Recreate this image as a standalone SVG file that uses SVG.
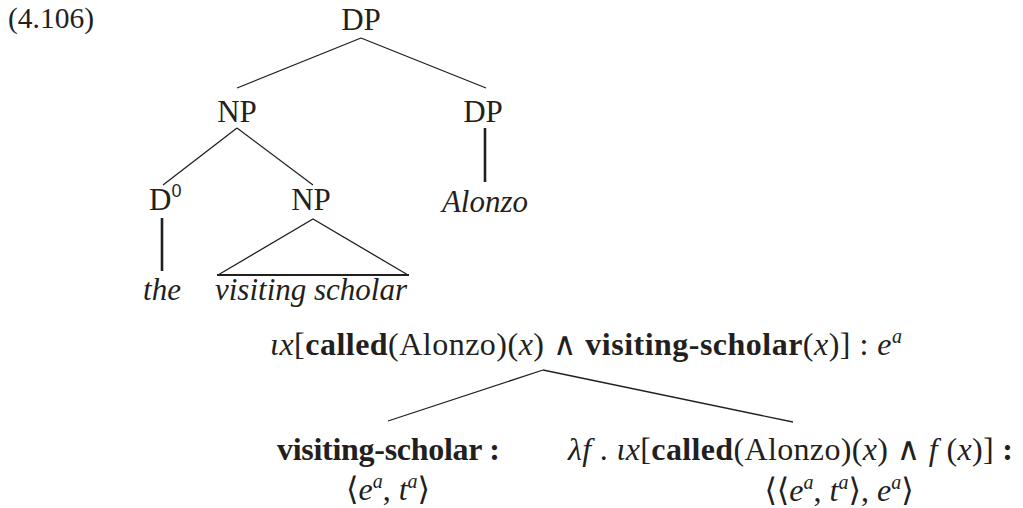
<svg xmlns="http://www.w3.org/2000/svg" width="1023" height="508" viewBox="0 0 1023 508">
<style>
text{font-family:"Liberation Serif","DejaVu Serif",serif;fill:#231f20}
.lab{font-size:31px;text-anchor:middle}
.leaf{font-size:31px;font-style:italic;text-anchor:middle}
.f{font-size:32px}
.b{font-weight:bold}
.i{font-style:italic}
.sup{font-size:20px;font-style:italic}
.ln{stroke:#231f20;stroke-width:1.3;fill:none}
.thick{stroke:#231f20;stroke-width:2.6;fill:none}
</style>
<rect width="1023" height="508" fill="#fff"/>
<text x="8" y="28" style="font-size:29.5px">(4.106)</text>
<g id="n-dp-root"><text class="lab" x="361" y="30">DP</text></g>
<g id="n-np1"><text class="lab" x="237" y="122">NP</text></g>
<g id="n-dp2"><text class="lab" x="483" y="122">DP</text></g>
<g id="n-d0"><text x="149" y="210" style="font-size:31px">D<tspan dy="-13" style="font-size:18px;font-family:'Liberation Sans',sans-serif">0</tspan></text></g>
<g id="n-np2"><text class="lab" x="311" y="210">NP</text></g>
<g id="n-alonzo"><text class="leaf" x="485" y="212">Alonzo</text></g>
<g id="n-the"><text class="leaf" x="162" y="300">the</text></g>
<g id="n-vs"><text class="leaf" x="311" y="300">visiting scholar</text></g>
<g id="n-sem-root"><text class="f" x="270" y="355" textLength="632" lengthAdjust="spacing"><tspan class="i">ιx</tspan>[<tspan class="b">called</tspan>(Alonzo)(<tspan class="i">x</tspan>) ∧ <tspan class="b">visiting-scholar</tspan>(<tspan class="i">x</tspan>)] : <tspan class="i">e</tspan><tspan class="sup" dy="-12">a</tspan></text></g>
<g id="n-sem-left">
<text class="f" x="277" y="460" textLength="223" lengthAdjust="spacing"><tspan class="b">visiting-scholar :</tspan></text>
<text class="f" x="388" y="500" text-anchor="middle">⟨<tspan class="i">e</tspan><tspan class="sup" dy="-12">a</tspan><tspan dy="12">, </tspan><tspan class="i">t</tspan><tspan class="sup" dy="-12">a</tspan><tspan dy="12">⟩</tspan></text>
</g>
<g id="n-sem-right">
<text class="f" x="568" y="460" textLength="445" lengthAdjust="spacing"><tspan class="i">λf</tspan> . <tspan class="i">ιx</tspan>[<tspan class="b">called</tspan>(Alonzo)(<tspan class="i">x</tspan>) ∧ <tspan class="i">f</tspan> (<tspan class="i">x</tspan>)] <tspan class="b">:</tspan></text>
<text class="f" x="839" y="501" text-anchor="middle">⟨⟨<tspan class="i">e</tspan><tspan class="sup" dy="-12">a</tspan><tspan dy="12">, </tspan><tspan class="i">t</tspan><tspan class="sup" dy="-12">a</tspan><tspan dy="12">⟩, </tspan><tspan class="i">e</tspan><tspan class="sup" dy="-12">a</tspan><tspan dy="12">⟩</tspan></text>
</g>
<g id="connectors">
<line class="ln" x1="361" y1="38" x2="237" y2="88"/>
<line class="ln" x1="361" y1="38" x2="486" y2="88"/>
<line class="ln" x1="237" y1="128" x2="163" y2="185"/>
<line class="ln" x1="237" y1="128" x2="313" y2="185"/>
<line class="thick" x1="485" y1="128" x2="485" y2="182"/>
<line class="thick" x1="162" y1="218" x2="162" y2="271"/>
<path class="ln" d="M218 275 L313 219 L408 275"/>
<line class="thick" x1="217" y1="275" x2="409" y2="275" style="stroke-width:2.2"/>
<line class="ln" x1="543" y1="370" x2="388" y2="421"/>
<line class="ln" x1="543" y1="370" x2="793" y2="422"/>
</g>
</svg>
